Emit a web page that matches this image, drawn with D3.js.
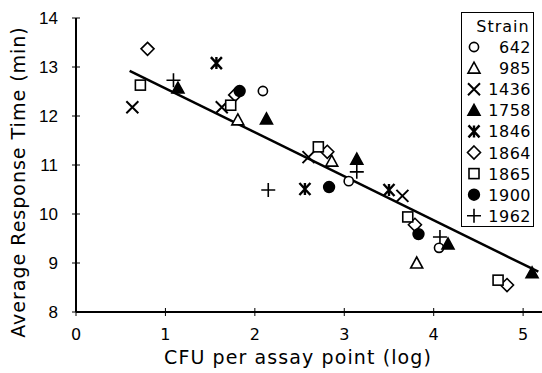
<!DOCTYPE html>
<html>
<head>
<meta charset="utf-8">
<script src="https://cdn.jsdelivr.net/npm/d3@7"></script>
<style>
  body { margin: 0; background: #fff; }
  svg { display: block; }
  text { fill: #000; }
</style>
</head>
<body>
<svg id="chart"></svg>
<script>
// ---- data ----
var strains = ["642", "985", "1436", "1758", "1846", "1864", "1865", "1900", "1962"];
var symbolKinds = ["circle", "triangle", "times", "triangleFill", "asterisk", "diamond", "square", "circleFill", "plus"];

// x = log CFU per assay point, y = average response time (min)
var s642  = [[2.09, 12.51], [3.05, 10.67], [4.06, 9.31]];
var s985  = [[1.81, 11.92], [2.86, 11.08], [3.81, 9.00]];
var s1436 = [[0.63, 12.18], [1.63, 12.18], [2.60, 11.16], [3.65, 10.37]];
var s1758 = [[1.14, 12.57], [2.13, 11.94], [3.14, 11.12], [4.16, 9.39], [5.10, 8.80]];
var s1846 = [[1.57, 13.08], [2.56, 10.51], [3.50, 10.49]];
var s1864 = [[0.80, 13.37], [1.78, 12.43], [2.81, 11.27], [3.79, 9.78], [4.82, 8.55]];
var s1865 = [[0.72, 12.63], [1.73, 12.22], [2.71, 11.37], [3.71, 9.94], [4.72, 8.65]];
var s1900 = [[1.83, 12.51], [2.83, 10.55], [3.83, 9.59]];
var s1962 = [[1.09, 12.73], [2.15, 10.49], [3.14, 10.86], [4.07, 9.53]];
var seriesValues = [s642, s985, s1436, s1758, s1846, s1864, s1865, s1900, s1962];

var xTicks = [0, 1, 2, 3, 4, 5];
var yTicks = [8, 9, 10, 11, 12, 13, 14];

// regression line
var fitSlope = -0.897;
var fitIntercept = 13.46;
var fitRange = [0.60, 5.17];

// ---- sizing ----
var width = 542, height = 373;
var svg = d3.select("#chart").attr("width", width).attr("height", height);

var x = d3.scaleLinear().domain([0, 5.2]).range([76, 541]);
var y = d3.scaleLinear().domain([8, 14]).range([312, 18]);

var titleFont = "19px 'DejaVu Sans', sans-serif";

// ---- axes ----
var xAxis = svg.append("g").attr("transform", "translate(0," + y(8) + ")");
xAxis.append("line").attr("x1", x(0)).attr("x2", width).attr("stroke", "#000").attr("stroke-width", 2);
xAxis.selectAll(".tk").data(xTicks).enter().append("line")
  .attr("x1", d => x(d)).attr("x2", d => x(d))
  .attr("y1", -4).attr("y2", 4)
  .attr("stroke", "#000").attr("stroke-width", 1);
xAxis.selectAll(".lb").data(xTicks).enter().append("text")
  .attr("x", d => x(d)).attr("y", 28)
  .attr("text-anchor", "middle")
  .style("font", "16px 'DejaVu Sans', sans-serif")
  .text(d => d);

var yAxis = svg.append("g").attr("transform", "translate(" + x(0) + ",0)");
yAxis.append("line").attr("y1", y(14)).attr("y2", y(8)).attr("stroke", "#000").attr("stroke-width", 2);
yAxis.selectAll(".tk").data(yTicks).enter().append("line")
  .attr("y1", d => y(d)).attr("y2", d => y(d))
  .attr("x1", -4).attr("x2", 4)
  .attr("stroke", "#000").attr("stroke-width", 1);
yAxis.selectAll(".lb").data(yTicks).enter().append("text")
  .attr("x", -18).attr("y", d => y(d) + 6)
  .attr("text-anchor", "end")
  .style("font", "17px 'Liberation Sans', Arial, sans-serif")
  .text(d => d);

svg.append("text")
  .attr("x", 298).attr("y", 364)
  .attr("text-anchor", "middle")
  .style("font", titleFont).style("letter-spacing", "1.1px")
  .text("CFU per assay point (log)");

svg.append("text")
  .attr("transform", "translate(25,182) rotate(-90)")
  .attr("text-anchor", "middle")
  .style("font", titleFont).style("letter-spacing", "1px")
  .text("Average Response Time (min)");

// ---- regression line ----
svg.append("line")
  .attr("x1", x(fitRange[0])).attr("y1", y(fitIntercept + fitSlope * fitRange[0]))
  .attr("x2", x(fitRange[1])).attr("y2", y(fitIntercept + fitSlope * fitRange[1]))
  .attr("stroke", "#000").attr("stroke-width", 2.5);

// ---- symbols ----
function drawSymbol(g, kind) {
  var sw = 1.6;
  if (kind === "circle" || kind === "circleFill") {
    g.append("circle").attr("r", kind === "circle" ? 4.6 : 5.4)
      .attr("fill", kind === "circle" ? "#fff" : "#000")
      .attr("stroke", "#000").attr("stroke-width", sw);
  } else if (kind === "triangle" || kind === "triangleFill") {
    g.append("path").attr("d", "M0,-6L6,5L-6,5Z")
      .attr("fill", kind === "triangle" ? "#fff" : "#000")
      .attr("stroke", "#000").attr("stroke-width", sw).attr("stroke-linejoin", "miter");
  } else if (kind === "square") {
    g.append("rect").attr("x", -5).attr("y", -5).attr("width", 10).attr("height", 10)
      .attr("fill", "#fff").attr("stroke", "#000").attr("stroke-width", sw);
  } else if (kind === "diamond") {
    g.append("path").attr("d", "M0,-6.5L6.5,0L0,6.5L-6.5,0Z")
      .attr("fill", "#fff").attr("stroke", "#000").attr("stroke-width", sw);
  } else if (kind === "times") {
    g.append("path").attr("d", "M-6,-6L6,6M6,-6L-6,6")
      .attr("stroke", "#000").attr("stroke-width", 2);
  } else if (kind === "plus") {
    g.append("path").attr("d", "M-7,0L7,0M0,-7L0,7")
      .attr("stroke", "#000").attr("stroke-width", 1.6);
  } else if (kind === "asterisk") {
    // bold X with a vertical stroke through it
    g.append("path").attr("d", "M-5.5,-6L5.5,6M5.5,-6L-5.5,6M0,-6L0,6")
      .attr("stroke", "#000").attr("stroke-width", 2.4);
  }
}

seriesValues.forEach(function(vals, i) {
  svg.append("g").selectAll("g").data(vals).enter().append("g")
    .attr("transform", d => "translate(" + x(d[0]) + "," + y(d[1]) + ")")
    .each(function() { drawSymbol(d3.select(this), symbolKinds[i]); });
});

// ---- legend ----
var legend = svg.append("g");
legend.append("rect").attr("x", 461.5).attr("y", 12.5).attr("width", 72).attr("height", 214)
  .attr("fill", "#fff").attr("stroke", "#000").attr("stroke-width", 1);
legend.append("text").attr("x", 503).attr("y", 32).attr("text-anchor", "middle")
  .style("font", "16px 'DejaVu Sans', sans-serif").style("letter-spacing", "1px").text("Strain");
var rows = legend.selectAll(".row").data(strains).enter().append("g")
  .attr("transform", (d, i) => "translate(0," + (47 + i * 21.1) + ")");
rows.append("g").attr("transform", "translate(474,0)")
  .each(function(d, i) { drawSymbol(d3.select(this), symbolKinds[i]); });
rows.append("text").attr("x", 531).attr("y", 6).attr("text-anchor", "end")
  .style("font", "16px 'DejaVu Sans', sans-serif").style("letter-spacing", "0.5px").text(d => d);
</script>
</body>
</html>
